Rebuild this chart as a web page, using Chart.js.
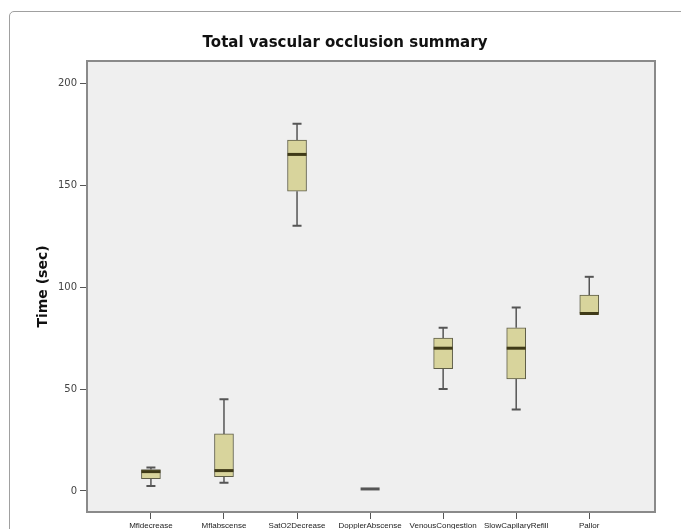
<!DOCTYPE html>
<html>
<head>
<meta charset="utf-8">
<script src="https://cdn.jsdelivr.net/npm/chart.js@4.4.1/dist/chart.umd.min.js"></script>
<style>
  html, body { margin: 0; padding: 0; background: #fff; overflow: hidden; }
  #wrap { position: relative; width: 681px; height: 529px; }
  #frame { position: absolute; left: 9px; top: 11px; width: 700px; height: 560px; border: 1px solid #a0a0a0; border-radius: 5px; }
  canvas { position: absolute; left: 0; top: 0; }
</style>
</head>
<body>
<div id="wrap">
  <div id="frame"></div>
  <canvas id="box" width="681" height="529"></canvas>
</div>
<script>
var categories = ['Mfldecrease', 'Mflabscense', 'SatO2Decrease', 'DopplerAbscense', 'VenousCongestion', 'SlowCapilaryRefill', 'Pallor']
var whiskerLow = [2.5, 4, 130, 1, 50, 40, 87]
var q1 = [6, 7, 147, 1, 60, 55, 87]
var median = [9.5, 10, 165, 1, 70, 70, 87]
var q3 = [10.5, 28, 172, 1, 75, 80, 96]
var whiskerHigh = [11.5, 45, 180, 1, 80, 90, 105]
var yTicks = [0, 50, 100, 150, 200]

var ctx = document.getElementById('box')

// grey plot panel behind the boxes, border on top
const panel = {
  id: 'panel',
  beforeDraw(chart) {
    const a = chart.chartArea
    const c = chart.ctx
    c.save()
    c.fillStyle = '#efefef'
    c.fillRect(a.left, a.top, a.right - a.left, a.bottom - a.top)
    c.restore()
  },
  afterDraw(chart) {
    const a = chart.chartArea
    const c = chart.ctx
    c.save()
    c.strokeStyle = '#8a8a8a'
    c.lineWidth = 2
    c.strokeRect(a.left, a.top, a.right - a.left, a.bottom - a.top)
    c.restore()
  }
}

// whiskers, caps and medians
const whiskers = {
  id: 'whiskers',
  beforeDatasetsDraw(chart) {
    const x = chart.scales.x
    const y = chart.scales.y
    const c = chart.ctx
    c.save()
    c.strokeStyle = '#555555'
    categories.forEach((name, i) => {
      const px = x.getPixelForValue(i + 1)
      c.lineWidth = 1.5
      c.beginPath()
      c.moveTo(px, y.getPixelForValue(whiskerLow[i]))
      c.lineTo(px, y.getPixelForValue(q1[i]))
      c.moveTo(px, y.getPixelForValue(q3[i]))
      c.lineTo(px, y.getPixelForValue(whiskerHigh[i]))
      c.stroke()
      c.lineWidth = 2
      c.beginPath()
      if (whiskerLow[i] < q1[i]) {
        c.moveTo(px - 4.5, y.getPixelForValue(whiskerLow[i]))
        c.lineTo(px + 4.5, y.getPixelForValue(whiskerLow[i]))
      }
      if (whiskerHigh[i] > q3[i]) {
        c.moveTo(px - 4.5, y.getPixelForValue(whiskerHigh[i]))
        c.lineTo(px + 4.5, y.getPixelForValue(whiskerHigh[i]))
      }
      c.stroke()
    })
    c.restore()
  },
  afterDatasetsDraw(chart) {
    const x = chart.scales.x
    const y = chart.scales.y
    const c = chart.ctx
    c.save()
    c.lineWidth = 3
    categories.forEach((name, i) => {
      const px = x.getPixelForValue(i + 1)
      const py = y.getPixelForValue(median[i])
      c.strokeStyle = q1[i] === q3[i] ? '#555555' : '#3f3a18'
      c.beginPath()
      c.moveTo(px - 9.5, py)
      c.lineTo(px + 9.5, py)
      c.stroke()
    })
    c.restore()
  }
}

var myChart = new Chart(ctx, {
  type: 'bar',
  data: {
    datasets: [{
      label: 'Time (sec)',
      data: categories.map((name, i) => ({ x: i + 1, y: [q1[i], q3[i]] })),
      backgroundColor: '#d8d49c',
      borderColor: '#5e5d47',
      borderWidth: 1,
      borderSkipped: false,
      barThickness: 19
    }]
  },
  options: {
    responsive: false,
    animation: false,
    devicePixelRatio: 1,
    layout: { padding: { left: 35, right: 26, top: 0, bottom: 0 } },
    plugins: {
      legend: { display: false },
      tooltip: { enabled: false },
      title: {
        display: true,
        text: 'Total vascular occlusion summary',
        color: '#111',
        font: { family: 'DejaVu Sans', size: 15, weight: 'bold' },
        padding: { top: 34, bottom: 9 }
      }
    },
    scales: {
      x: {
        type: 'linear',
        min: 0.125,
        max: 7.9,
        offset: false,
        afterBuildTicks: s => { s.ticks = categories.map((n, i) => ({ value: i + 1 })) },
        afterFit: s => { s.height = 17 },
        grid: { drawOnChartArea: false, offset: false, tickLength: 7, color: '#555' },
        border: { display: false },
        ticks: {
          autoSkip: false,
          maxRotation: 0,
          padding: 2,
          color: '#222',
          font: { family: 'Liberation Sans', size: 8 },
          callback: v => categories[v - 1]
        }
      },
      y: {
        min: -10.3,
        max: 210.8,
        afterBuildTicks: s => { s.ticks = yTicks.map(v => ({ value: v })) },
        afterFit: s => { s.width = 52 },
        grid: { drawOnChartArea: false, tickLength: 7, color: '#555' },
        border: { display: false },
        ticks: {
          padding: 3,
          color: '#444',
          font: { family: 'DejaVu Sans', size: 10 }
        },
        title: {
          display: true,
          text: 'Time (sec)',
          color: '#111',
          padding: 0,
          font: { family: 'DejaVu Sans', size: 14, weight: 'bold' }
        }
      }
    }
  },
  plugins: [panel, whiskers]
})
</script>
</body>
</html>
